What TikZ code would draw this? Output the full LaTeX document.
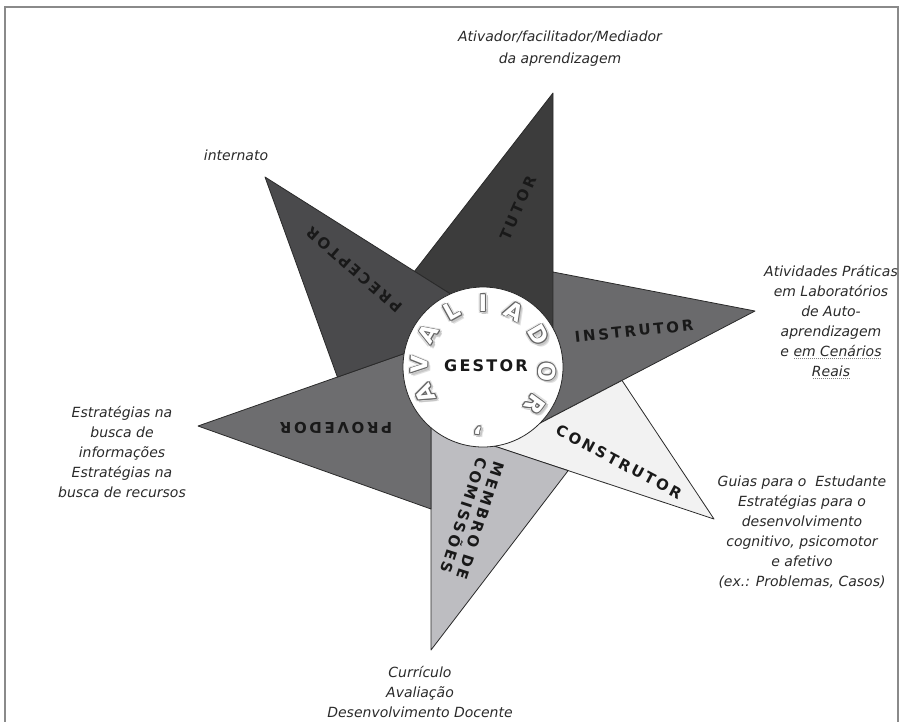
\documentclass[tikz,border=0pt]{standalone}
\usepackage{fontspec}
\setmainfont{DejaVu Sans}
\newfontfamily\notefont{DejaVu Sans}
\newfontfamily\lblfont{DejaVu Sans}[LetterSpace=18]
\newfontfamily\gestfont{DejaVu Sans}[LetterSpace=14]
\newfontfamily\ringfont{DejaVu Sans}
\usetikzlibrary{calc}
\definecolor{framecol}{HTML}{8A8A8A}
\definecolor{edgecol}{HTML}{2A2A2A}
\definecolor{ctutor}{HTML}{3C3C3C}
\definecolor{cprec}{HTML}{4A4A4C}
\definecolor{cinst}{HTML}{6A6A6C}
\definecolor{cprov}{HTML}{6D6D6F}
\definecolor{ccons}{HTML}{F2F2F2}
\definecolor{cmemb}{HTML}{BDBDC1}
\definecolor{notecol}{HTML}{2A2A2A}
\newcommand\dotul[1]{\setbox0\hbox{#1}\rlap{\raisebox{-3pt}{\hbox to \wd0{\color{gray}\leaders\hbox to 2pt{\hss\rule{0.9pt}{0.9pt}\hss}\hfil}}}\box0}
\tikzset{
  blade/.style={draw=edgecol, line width=0.8pt, line join=round},
  note/.style={font=\notefont\itshape\fontsize{14}{20}\selectfont, text=notecol, align=center, inner sep=0pt},
  lbl/.style={font=\lblfont\bfseries\fontsize{15}{17.5}\selectfont, text=black!90, align=center, inner sep=0pt},
  ringl/.style={font=\ringfont\bfseries\fontsize{23}{23}\selectfont, inner sep=0pt},
  hubstyle/.style={circle, draw=edgecol, fill=white, line width=0.8pt, minimum size=160pt, inner sep=0pt},
}
\begin{document}
\begin{tikzpicture}[x=1pt,y=-1pt]
\useasboundingbox (0,0) rectangle (904,721);
\draw[framecol, line width=1.3pt] (5,730) -- (5,7) -- (898,7) -- (898,730);

\coordinate (C) at (483,367);
% tips
\coordinate (T1) at (553,93);
\coordinate (T2) at (755,311);
\coordinate (T3) at (714,519);
\coordinate (T4) at (431,650);
\coordinate (T5) at (198,426);
\coordinate (T6) at (265,177);
% inner points of visible edges
\coordinate (P1) at (553,345);
\coordinate (P2) at (525,431);
\coordinate (P3) at (485,443);
\coordinate (P4) at (431,410);
\coordinate (P5) at (420,348);
\coordinate (P6) at (460,300);
% directions of hidden edges
\coordinate (H1) at (417,268);
\coordinate (H2) at (553,272);
\coordinate (H3) at (623,382);
\coordinate (H4) at (567,472);
\coordinate (H5) at (431,509);
\coordinate (H6) at (337,376);
\coordinate (X1) at (intersection of T1--H1 and T6--P6);
\coordinate (X2) at (intersection of T2--H2 and T1--P1);
\coordinate (X3) at (intersection of T3--H3 and T2--P2);
\coordinate (X4) at (intersection of T4--H4 and T3--P3);
\coordinate (X5) at (intersection of T5--H5 and T4--P4);
\coordinate (X6) at (intersection of T6--H6 and T5--P5);

\draw[blade, fill=ctutor] (T1) -- (X1) -- (P6) -- (C) -- (P1) -- cycle;
\draw[blade, fill=cinst]  (T2) -- (X2) -- (P1) -- (C) -- (P2) -- cycle;
\draw[blade, fill=ccons]  (T3) -- (X3) -- (P2) -- (C) -- (P3) -- cycle;
\draw[blade, fill=cmemb]  (T4) -- (X4) -- (P3) -- (C) -- (P4) -- cycle;
\draw[blade, fill=cprov]  (T5) -- (X5) -- (P4) -- (C) -- (P5) -- cycle;
\draw[blade, fill=cprec]  (T6) -- (X6) -- (P5) -- (C) -- (P6) -- cycle;

\node[hubstyle] (hub) at (C) {};
\node[font=\gestfont\bfseries\fontsize{16}{20}\selectfont, text=black!90, inner sep=0pt] (gestor) at (486,366) {GESTOR};

% ring text AVALIADOR
\foreach \ch/\a [count=\k] in {A/205,V/178,A/149,L/119,I/90,A/61,D/30,O/-4,R/-36,{,}/-95}{
  \coordinate (rl) at ($(C)+(-\a:64)$);
  \foreach \dx/\dy/\sh in {3.2/-3.2/12, 2.3/-2.3/22, 1/-2.8/22, 2.8/-1/22, -1.8/-1.8/14, 1.8/1.8/12, -2/1.3/10}{
    \node[ringl, text=black!\sh, rotate=\a-90] at ($(rl)+(\dx pt,\dy pt)$) {\ch};}
  \foreach \dx/\dy in {0.9/0,-0.9/0,0/0.9,0/-0.9,0.64/0.64,-0.64/0.64,0.64/-0.64,-0.64/-0.64}{
    \node[ringl, text=black!60, rotate=\a-90] at ($(rl)+(\dx pt,\dy pt)$) {\ch};}
  \node[ringl, text=white, rotate=\a-90] (ring\k) at (rl) {\ch};
}

% blade labels
\node[lbl, rotate=66] (tutor) at (518,208) {TUTOR};
\node[lbl, rotate=139] (precep) at (354,270) {PRECEPTOR};
\node[lbl, rotate=180] (prov) at (336,428) {PROVEDOR};
\node[lbl, rotate=6] (instr) at (634,331) {INSTRUTOR};
\node[lbl, rotate=-28] (constr) at (619,462) {CONSTRUTOR};
\node[lbl, rotate=-108] (membro) at (472,518) {MEMBRO DE\\COMISSÕES};

% notes
\node[note] (ntop) at (560,49) {Ativador/facilitador/Mediador\\[2pt]da aprendizagem};
\node[note] (nint) at (236,155) {internato};
\node[note] (ninst) at (831,322) {Atividades Práticas\\em Laboratórios\\de Auto-\\aprendizagem\\e \dotul{em Cenários}\\\dotul{Reais}};
\node[note] (ncons) at (802,532) {Guias para o \ Estudante\\Estratégias para o\\desenvolvimento\\cognitivo, psicomotor\\e afetivo\\(ex.: Problemas, Casos)};
\node[note] (nprov) at (122,452) {Estratégias na\\busca de\\informações\\Estratégias na\\busca de recursos};
\node[note] (nmemb) at (420,692) {Currículo\\Avaliação\\Desenvolvimento Docente};
\end{tikzpicture}
\end{document}
